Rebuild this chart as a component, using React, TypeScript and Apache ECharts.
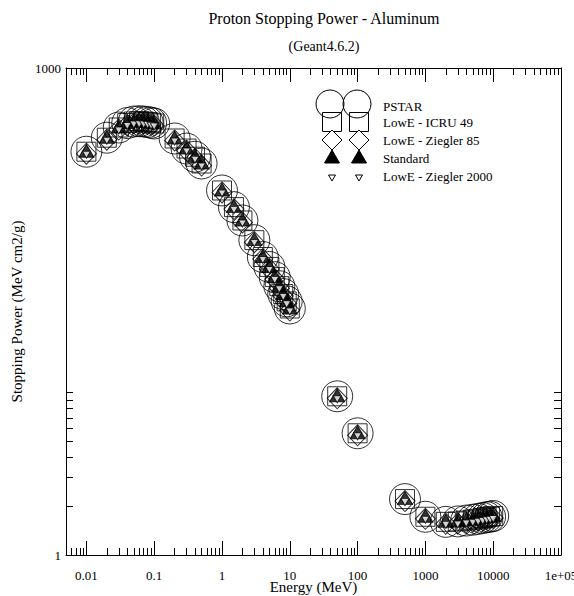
import React, { useEffect, useRef } from 'react';
import * as echarts from 'echarts';

// ---- data ----
const energyMeV = [
  0.01, 0.02, 0.03, 0.04, 0.05, 0.06, 0.07, 0.08, 0.09, 0.1,
  0.2, 0.3, 0.4, 0.5,
  1, 1.5, 2, 3, 4, 5, 6, 7, 8, 9, 10,
  50, 100, 500, 1000,
  2000, 3000, 4000, 5000, 6000, 7000, 8000, 9000, 10000,
];
// all five data sets coincide within the resolution of the picture
const stoppingPower = [
  305, 372, 430, 458, 468, 470, 468, 465, 460, 455,
  368, 319, 284, 258,
  176, 139, 115, 87, 68.5, 59.5, 51.5, 45.3, 40.5, 36.5, 33,
  9.5, 5.62, 2.21, 1.72,
  1.6, 1.61, 1.63, 1.65, 1.67, 1.69, 1.71, 1.72, 1.74,
];
const pstar = stoppingPower;
const lowEIcru49 = stoppingPower;
const lowEZiegler85 = stoppingPower;
const standard = stoppingPower;
const lowEZiegler2000 = stoppingPower;

const seriesNames = ['PSTAR', 'LowE - ICRU 49', 'LowE - Ziegler 85', 'Standard', 'LowE - Ziegler 2000'];

const xMajorTicks = [0.01, 0.1, 1, 10, 100, 1000, 10000, 100000];
const xTickLabels = ['0.01', '0.1', '1', '10', '100', '1000', '10000', '1e+05'];
const minorMultipliers = [2, 3, 4, 5, 6, 7, 8, 9];
const xMinorTicks: number[] = [0.005, 0.006, 0.007, 0.008, 0.009];
for (let d = -2; d <= 4; d++) {
  for (const m of minorMultipliers) xMinorTicks.push(m * Math.pow(10, d));
}
const yTickValues = [2, 3, 4, 5, 6, 7, 8, 9, 10];
const yLabelValues = [1, 1000];
const yTickLabels = ['1', '1000'];

const FONT = '"Liberation Serif", "Times New Roman", serif';

function pair(xs: number[], ys: number[]) {
  return xs.map((x, i) => [x, ys[i]]);
}

export default function App() {
  const ref = useRef<HTMLDivElement>(null);
  useEffect(() => {
    if (!ref.current) return;
    const chart = echarts.init(ref.current, undefined, { renderer: 'svg' });

    const lineStyle = { color: '#000', width: 1 };
    const logX = {
      type: 'log', logBase: 10, min: 0.005, max: 100000,
      splitLine: { show: false }, minorTick: { show: false }, minorSplitLine: { show: false },
    };
    const logY = {
      type: 'log', logBase: 10, min: 1, max: 1000,
      splitLine: { show: false }, minorTick: { show: false }, minorSplitLine: { show: false },
    };
    const xFmt = (v: number) => {
      const i = xMajorTicks.findIndex((t) => Math.abs(Math.log10(t) - Math.log10(v)) < 1e-6);
      return i >= 0 ? xTickLabels[i] : '';
    };
    const yFmt = (v: number) => {
      const i = yLabelValues.findIndex((t) => Math.abs(Math.log10(t) - Math.log10(v)) < 1e-6);
      return i >= 0 ? yTickLabels[i] : '';
    };

    const symStyle = (fill: string) => ({ color: fill, borderColor: '#000', borderWidth: 1 });
    const base = { type: 'scatter', xAxisIndex: 0, yAxisIndex: 0, silent: true, emphasis: { disabled: true } };

    // legend markers (two columns, like the original)
    const legendCols = [332, 359];
    const legendEls: any[] = [];
    legendCols.forEach((cx) => {
      legendEls.push({ type: 'circle', shape: { cx: cx - 2, cy: 104, r: 14 }, style: { fill: 'none', stroke: '#000', lineWidth: 1 } });
    });
    legendCols.forEach((cx) => {
      legendEls.push({ type: 'rect', shape: { x: cx - 9.5, y: 112.5, width: 19, height: 19 }, style: { fill: 'none', stroke: '#000', lineWidth: 1 } });
    });
    legendCols.forEach((cx) => {
      legendEls.push({ type: 'polygon', shape: { points: [[cx, 130], [cx + 10, 140], [cx, 150], [cx - 10, 140]] }, style: { fill: '#fff', stroke: '#000', lineWidth: 1 } });
    });
    legendCols.forEach((cx) => {
      legendEls.push({ type: 'polygon', shape: { points: [[cx, 150], [cx + 7.5, 163], [cx - 7.5, 163]] }, style: { fill: '#000', stroke: '#000', lineWidth: 1 } });
    });
    legendCols.forEach((cx) => {
      legendEls.push({ type: 'polygon', shape: { points: [[cx - 3.5, 175], [cx + 3.5, 175], [cx, 181]] }, style: { fill: '#fff', stroke: '#000', lineWidth: 1 } });
    });
    const legendTextY = [106.5, 122, 140, 158, 176];
    seriesNames.forEach((n, i) => {
      legendEls.push({
        type: 'text',
        style: { text: n, x: 383, y: legendTextY[i], font: `13px ${FONT}`, fill: '#000', textAlign: 'left', textVerticalAlign: 'middle', align: 'left', verticalAlign: 'middle' },
      });
    });

    const option: any = {
      animation: false,
      backgroundColor: '#fff',
      grid: { left: 66, right: 13, top: 68, bottom: 41, containLabel: false, outerBoundsMode: 'none' },
      xAxis: [
        {
          ...logX, position: 'bottom',
          axisLine: { show: true, onZero: false, lineStyle },
          axisTick: { show: true, inside: true, length: 14, customValues: xMajorTicks, lineStyle },
          axisLabel: { show: true, customValues: xMajorTicks, formatter: xFmt, margin: 14, color: '#000', fontFamily: FONT, fontSize: 13 },
          name: 'Energy (MeV)', nameLocation: 'middle', nameGap: 24, nameMoveOverlap: false,
          nameTextStyle: { color: '#000', fontFamily: FONT, fontSize: 15 },
        },
        {
          ...logX, position: 'bottom',
          axisLine: { show: false, onZero: false },
          axisTick: { show: true, inside: true, length: 7, customValues: xMinorTicks, lineStyle },
          axisLabel: { show: false },
        },
        {
          ...logX, position: 'top',
          axisLine: { show: true, onZero: false, lineStyle },
          axisTick: { show: true, inside: true, length: 14, customValues: xMajorTicks, lineStyle },
          axisLabel: { show: false },
        },
        {
          ...logX, position: 'top',
          axisLine: { show: false, onZero: false },
          axisTick: { show: true, inside: true, length: 7, customValues: xMinorTicks, lineStyle },
          axisLabel: { show: false },
        },
      ],
      yAxis: [
        {
          ...logY, position: 'left',
          axisLine: { show: true, onZero: false, lineStyle },
          axisTick: { show: true, inside: true, length: 7, customValues: yTickValues, lineStyle },
          axisLabel: { show: true, customValues: yLabelValues, formatter: yFmt, margin: 5, color: '#000', fontFamily: FONT, fontSize: 13 },
          name: 'Stopping Power (MeV cm2/g)', nameLocation: 'middle', nameGap: 42, nameRotate: 90, nameMoveOverlap: false,
          nameTextStyle: { color: '#000', fontFamily: FONT, fontSize: 15 },
        },
        {
          ...logY, position: 'right',
          axisLine: { show: true, onZero: false, lineStyle },
          axisTick: { show: true, inside: true, length: 7, customValues: yTickValues, lineStyle },
          axisLabel: { show: false },
        },
      ],
      series: [
        { ...base, name: seriesNames[0], data: pair(energyMeV, pstar), symbol: 'circle', symbolSize: 31, itemStyle: symStyle('rgba(0,0,0,0)') },
        { ...base, name: seriesNames[1], data: pair(energyMeV, lowEIcru49), symbol: 'rect', symbolSize: 19, itemStyle: symStyle('rgba(0,0,0,0)') },
        { ...base, name: seriesNames[2], data: pair(energyMeV, lowEZiegler85), symbol: 'diamond', symbolSize: [20, 21], symbolOffset: [0, 2], itemStyle: symStyle('rgba(0,0,0,0)') },
        { ...base, name: seriesNames[3], data: pair(energyMeV, standard), symbol: 'triangle', symbolSize: [15, 13], symbolOffset: [0, -1], itemStyle: symStyle('#000') },
        { ...base, name: seriesNames[4], data: pair(energyMeV, lowEZiegler2000), symbol: 'path://M0,0 L10,0 L5,9 Z', symbolSize: [8, 7], symbolOffset: [0, 3], itemStyle: symStyle('#fff') },
      ],
      graphic: [
        {
          type: 'text',
          style: { text: 'Proton Stopping Power - Aluminum', x: 324, y: 18, font: `16px ${FONT}`, fill: '#000', textAlign: 'center', textVerticalAlign: 'middle', align: 'center', verticalAlign: 'middle' },
        },
        {
          type: 'text',
          style: { text: '(Geant4.6.2)', x: 324, y: 46, font: `14px ${FONT}`, fill: '#000', textAlign: 'center', textVerticalAlign: 'middle', align: 'center', verticalAlign: 'middle' },
        },
        ...legendEls,
      ],
    };
    chart.setOption(option);
    return () => chart.dispose();
  }, []);

  return (
    <div
      ref={ref}
      style={{ position: 'fixed', left: 0, top: 0, width: 574, height: 596, background: '#fff' }}
    />
  );
}
